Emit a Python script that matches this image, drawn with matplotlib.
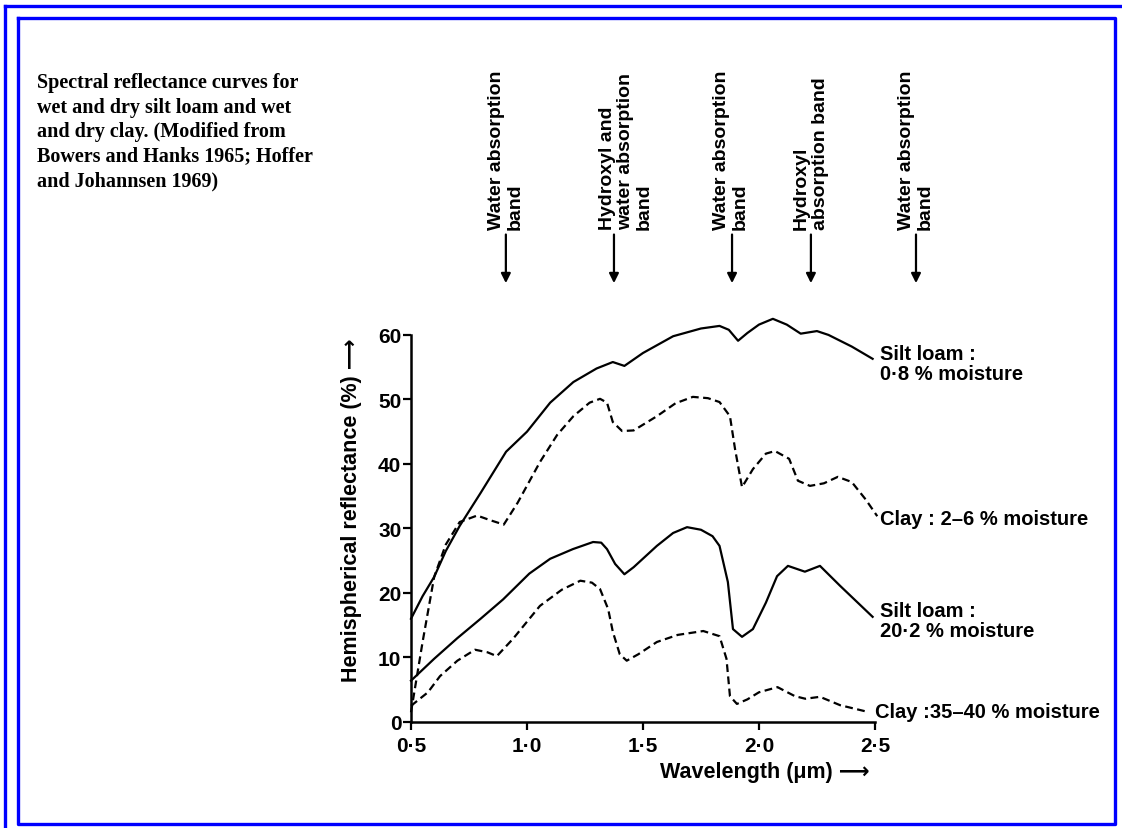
import matplotlib.pyplot as plt
from matplotlib.lines import Line2D

# wavelength (um) / reflectance (%)
silt_dry_x = [0.50, 0.55, 0.60, 0.65, 0.71, 0.80, 0.91, 1.00, 1.10, 1.20, 1.30, 1.37, 1.42,
              1.50, 1.63, 1.75, 1.83, 1.87, 1.91, 1.95, 2.00, 2.06, 2.12, 2.18, 2.25, 2.30,
              2.40, 2.49]
silt_dry_y = [16.0, 19.5, 22.5, 26.5, 30.4, 35.5, 41.9, 45.0, 49.5, 52.7, 54.8, 55.8, 55.2,
              57.2, 59.8, 61.0, 61.4, 60.8, 59.1, 60.3, 61.6, 62.5, 61.6, 60.2, 60.6, 60.0,
              58.2, 56.3]

clay_dry_x = [0.50, 0.55, 0.60, 0.65, 0.71, 0.785, 0.84, 0.90, 0.96, 1.056, 1.13, 1.20, 1.27,
              1.315, 1.345, 1.37, 1.41, 1.46, 1.56, 1.64, 1.715, 1.78, 1.83, 1.875, 1.897,
              1.927, 1.974, 2.03, 2.069, 2.13, 2.168, 2.22, 2.28, 2.34, 2.40, 2.46, 2.51]
clay_dry_y = [1.5, 12.4, 22.5, 27.5, 31.0, 32.0, 31.3, 30.6, 34.0, 40.3, 44.5, 47.4, 49.5,
              50.1, 49.5, 46.5, 45.1, 45.2, 47.4, 49.4, 50.4, 50.2, 49.6, 47.4, 42.3,
              36.4, 39.2, 41.6, 42.0, 40.8, 37.4, 36.6, 37.0, 38.0, 37.2, 34.5, 31.9]

silt_wet_x = [0.50, 0.60, 0.70, 0.80, 0.897, 1.01, 1.10, 1.198, 1.285, 1.32, 1.345, 1.38,
              1.42, 1.46, 1.56, 1.63, 1.69, 1.75, 1.80, 1.83, 1.866, 1.888, 1.927, 1.974,
              2.03, 2.078, 2.125, 2.198, 2.263, 2.35, 2.49]
silt_wet_y = [6.4, 9.8, 13.0, 16.0, 19.0, 23.0, 25.3, 26.8, 27.9, 27.8, 26.8, 24.5,
              22.9, 24.0, 27.3, 29.3, 30.2, 29.8, 28.8, 27.3, 21.7, 14.4, 13.2, 14.4,
              18.5, 22.6, 24.2, 23.3, 24.2, 21.1, 16.3]

clay_wet_x = [0.50, 0.573, 0.625, 0.70, 0.776, 0.83, 0.87, 0.94, 1.056, 1.15, 1.23, 1.28,
              1.315, 1.35, 1.37, 1.40, 1.43, 1.48, 1.56, 1.65, 1.76, 1.83, 1.86, 1.875,
              1.905, 1.95, 2.00, 2.08, 2.155, 2.20, 2.263, 2.35, 2.465]
clay_wet_y = [2.5, 4.6, 7.1, 9.5, 11.2, 10.8, 10.2, 12.9, 18.0, 20.5, 21.9, 21.6,
              20.6, 17.5, 14.0, 10.5, 9.5, 10.5, 12.4, 13.5, 14.1, 13.3, 9.8, 4.0,
              2.8, 3.5, 4.6, 5.4, 4.0, 3.6, 3.9, 2.6, 1.6]

x_ticks = [0.5, 1.0, 1.5, 2.0, 2.5]
x_ticklabels = ['0·5', '1·0', '1·5', '2·0', '2·5']
y_ticks = [0, 10, 20, 30, 40, 50, 60]

band_x = [0.909, 1.375, 1.884, 2.224, 2.677]
band_text_x = [0.909, 1.427, 1.880, 2.224, 2.677]
band_labels = ['Water absorption\nband',
               'Hydroxyl and\nwater absorption\nband',
               'Water absorption\nband',
               'Hydroxyl\nabsorption band',
               'Water absorption\nband']

caption = ('Spectral reflectance curves for\n'
           'wet and dry silt loam and wet\n'
           'and dry clay. (Modified from\n'
           'Bowers and Hanks 1965; Hoffer\n'
           'and Johannsen 1969)')

sans = ['Liberation Sans', 'DejaVu Sans']

fig = plt.figure(figsize=(11.22, 8.29), dpi=100)
ax = fig.add_axes([0.3663, 0.1279, 0.4135, 0.4902])

lw = 1.6
ax.plot(silt_dry_x, silt_dry_y, color='black', lw=lw, clip_on=False)
ax.plot(clay_dry_x, clay_dry_y, color='black', lw=lw, dashes=(3.5, 2), clip_on=False)
ax.plot(silt_wet_x, silt_wet_y, color='black', lw=lw, clip_on=False)
ax.plot(clay_wet_x, clay_wet_y, color='black', lw=lw, dashes=(3.5, 2), clip_on=False)

ax.set_xlim(0.5, 2.5)
ax.set_ylim(0, 63)
ax.spines['top'].set_visible(False)
ax.spines['right'].set_visible(False)
ax.spines['left'].set_bounds(0, 60)
ax.spines['left'].set_linewidth(1.8)
ax.spines['bottom'].set_linewidth(1.8)
ax.set_xticks(x_ticks)
ax.set_xticklabels(x_ticklabels)
ax.set_yticks(y_ticks)
ax.tick_params(axis='both', length=6, width=1.6, labelsize=15)
ax.tick_params(axis='x', pad=4)
ax.tick_params(axis='y', pad=1)
for lab in ax.get_xticklabels() + ax.get_yticklabels():
    lab.set_family(sans)
    lab.set_weight('bold')

# curve labels
txt = dict(fontsize=14.5, weight='bold', family=sans, ha='left', va='center', clip_on=False)
ax.text(2.52, 55.6, 'Silt loam :\n0·8 % moisture', linespacing=1.1, **txt)
ax.text(2.52, 31.5, 'Clay : 2–6 % moisture', **txt)
ax.text(2.52, 15.7, 'Silt loam :\n20·2 % moisture', linespacing=1.1, **txt)
ax.text(2.50, 1.7, 'Clay :35–40 % moisture', **txt)

# absorption bands along the top
for bx, tx, lab in zip(band_x, band_text_x, band_labels):
    ax.annotate('', xy=(bx, 67.6), xytext=(bx, 76.0),
                arrowprops=dict(arrowstyle='-|>', color='black', lw=1.6, mutation_scale=14),
                annotation_clip=False)
    ax.text(tx, 76.5, lab, rotation=90, ha='center', va='bottom', multialignment='left',
            fontsize=14, weight='bold', family=sans, linespacing=1.12, clip_on=False)

fig.text(352 / 1122, 1 - 510 / 829, 'Hemispherical reflectance (%) ⟶', rotation=90,
         ha='center', va='center', fontsize=15.5, weight='bold', family=sans)
fig.text(765 / 1122, 1 - 773 / 829, 'Wavelength (μm) ⟶', ha='center', va='center',
         fontsize=15.5, weight='bold', family=sans)

fig.text(37 / 1122, 1 - 73 / 829, caption, ha='left', va='top', fontsize=14.5,
         weight='bold', family=['Liberation Serif', 'DejaVu Serif'], linespacing=1.3)

# blue frame
W, H = 1122, 829
def px_line(xs, ys):
    fig.add_artist(Line2D([x / W for x in xs], [1 - y / H for y in ys],
                          color='#0000ff', lw=2.4, transform=fig.transFigure))
px_line([5, 5], [7, 829])
px_line([5, 1122], [7, 7])
px_line([18, 1115, 1115, 18, 18], [19, 19, 825, 825, 19])

fig.savefig('out.png', dpi=100)
